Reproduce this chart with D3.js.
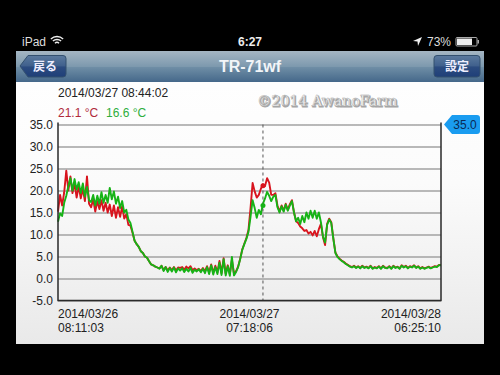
<!DOCTYPE html>
<html>
<head>
<meta charset="utf-8">
<script src="https://cdn.jsdelivr.net/npm/d3@7"></script>
<style>
  html, body { margin: 0; padding: 0; background: #000; }
  svg { display: block; }
  text { font-family: "Liberation Sans", sans-serif; }
  .tick text { font-size: 12px; fill: #222; }
  .grid .domain { display: none; }
  .grid line { stroke: #a2a2a2; stroke-width: 1.4; }
</style>
</head>
<body>
<div id="chart"></div>
<script>
const yTicks = [-5, 0, 5, 10, 15, 20, 25, 30, 35];
const xDates = ["2014/03/26", "2014/03/27", "2014/03/28"];
const xTimes = ["08:11:03", "07:18:06", "06:25:10"];
const xTickIndex = [0, 92.5, 185];

const cursorIndex = 99;
const cursorTime = "2014/03/27 08:44:02";
const cursorRed = 21.1;
const cursorGreen = 16.6;
const badgeValue = 35.0;

// one reading about every 15 minutes
const redValues = [
  15.2, 19.0, 16.6, 19.6, 24.5, 20.0, 23.2, 19.4, 21.6, 18.4,
  21.0, 18.2, 20.4, 17.6, 23.2, 17.0, 16.2, 18.0, 15.2, 17.6,
  15.8, 17.8, 15.4, 17.2, 15.0, 16.8, 14.2, 16.6, 13.8, 16.2,
  14.0, 16.4, 13.6, 14.6, 12.2, 12.0, 10.4, 8.6, 7.8, 7.2,
  6.2, 5.8, 5.0, 4.7, 3.9, 3.2, 3.0, 2.7, 2.5, 2.3,
  2.9, 1.9, 2.6, 1.8, 2.5, 1.9, 2.6, 1.8, 2.5, 2.4,
  2.6, 2.0, 2.7, 2.3, 2.8, 1.9, 2.3, 1.9, 2.2, 1.7,
  2.4, 1.6, 2.8, 1.4, 3.2, 1.3, 2.9, 1.4, 4.0, 1.2,
  4.6, 1.1, 3.0, 1.0, 4.2, 1.1, 1.6, 2.7, 4.5, 6.6,
  7.9, 9.2, 11.0, 16.0, 21.7, 19.8, 18.4, 19.0, 20.4, 21.4,
  21.0, 22.8, 21.8, 19.0, 19.0, 19.4, 16.6, 15.2, 16.6, 15.4,
  17.0, 15.6, 16.9, 17.8, 15.0, 13.0, 12.6, 11.8, 11.4, 10.8,
  11.0, 10.2, 10.6, 9.8, 10.8, 9.6, 11.2, 12.4, 9.4, 7.6,
  12.4, 13.6, 12.8, 9.1, 5.9, 5.0, 4.5, 4.1, 3.8, 3.4,
  3.1, 2.8, 2.6, 2.9, 2.5, 2.8, 2.4, 2.9, 2.5, 2.7,
  2.4, 2.9, 2.3, 2.6, 2.4, 2.8, 2.3, 2.9, 2.5, 2.4,
  2.8, 2.3, 2.9, 2.5, 2.7, 2.3, 3.0, 2.6, 2.9, 2.4,
  2.8, 2.6, 3.0, 2.5, 2.8, 2.3, 2.6, 2.3, 2.5, 2.7,
  2.4, 2.6, 2.8, 2.7, 3.1, 3.1
];
const greenValues = [
  12.9, 14.8, 14.2, 17.2, 18.8, 21.0, 22.8, 20.0, 22.6, 20.2,
  21.9, 19.4, 21.6, 18.6, 20.8, 17.8, 17.4, 19.0, 16.6, 18.8,
  17.0, 19.6, 17.2, 19.0, 17.2, 20.6, 18.0, 19.8, 17.0, 18.6,
  16.0, 17.6, 15.0, 15.6, 13.4, 12.6, 10.6, 8.6, 7.8, 7.2,
  6.2, 5.8, 5.0, 4.7, 3.9, 3.2, 3.0, 2.7, 2.5, 2.2,
  2.9, 1.7, 2.6, 1.5, 2.4, 1.6, 2.5, 1.4, 2.3, 1.8,
  2.3, 1.5, 2.2, 1.6, 2.4, 1.3, 2.0, 1.6, 2.1, 1.4,
  2.2, 1.2, 2.6, 1.0, 3.0, 0.9, 2.6, 1.0, 3.6, 0.8,
  4.4, 0.7, 2.8, 0.6, 4.9, 0.7, 1.5, 2.6, 4.4, 6.5,
  7.8, 9.0, 10.6, 14.0, 17.8, 16.0, 13.8, 15.6, 14.6, 17.0,
  18.2, 19.7, 18.8, 17.6, 18.6, 19.0, 16.2, 15.0, 16.4, 15.2,
  16.8, 15.4, 16.6, 17.6, 15.0, 13.0, 13.8, 12.4, 14.2, 12.8,
  15.0, 13.6, 15.4, 13.8, 15.4, 13.6, 15.0, 12.8, 9.5, 8.2,
  12.2, 13.4, 12.6, 9.0, 5.8, 4.9, 4.4, 4.0, 3.7, 3.3,
  3.0, 2.7, 2.5, 2.8, 2.4, 2.7, 2.3, 2.8, 2.4, 2.6,
  2.3, 2.8, 2.2, 2.5, 2.3, 2.7, 2.2, 2.8, 2.4, 2.3,
  2.7, 2.2, 2.8, 2.4, 2.6, 2.2, 2.9, 2.5, 2.8, 2.3,
  2.7, 2.5, 2.9, 2.4, 2.7, 2.2, 2.5, 2.2, 2.4, 2.6,
  2.3, 2.5, 2.7, 2.6, 3.0, 3.0
];

const svgWidth = 500;
const svgHeight = 375;
const margin = { top: 124.5, right: 59, bottom: 74.5, left: 58 };
const width = svgWidth - margin.left - margin.right;
const height = svgHeight - margin.top - margin.bottom;

const svg = d3.select("#chart")
  .append("svg")
  .attr("width", svgWidth)
  .attr("height", svgHeight);

const defs = svg.append("defs");

function addGradient(id, stops) {
  const grad = defs.append("linearGradient")
    .attr("id", id)
    .attr("x1", 0).attr("y1", 0).attr("x2", 0).attr("y2", 1);
  stops.forEach(s => grad.append("stop").attr("offset", s[0]).attr("stop-color", s[1]));
}
addGradient("panelGrad", [[0, "#ffffff"], [0.45, "#fbfbfb"], [1, "#e9e9e9"]]);
addGradient("navGrad", [[0, "#a5b6c3"], [0.5, "#7d99ae"], [0.52, "#6f8ea6"], [1, "#45688a"]]);
addGradient("btnGrad", [[0, "#5b7a9e"], [0.5, "#3f5f8c"], [0.52, "#2c4c80"], [1, "#1f3f78"]]);

// phone screen
svg.append("rect").attr("x", 16).attr("y", 51).attr("width", 468).attr("height", 293).attr("fill", "url(#panelGrad)");
svg.append("rect").attr("x", 16).attr("y", 51).attr("width", 468).attr("height", 31).attr("fill", "url(#navGrad)");

// status bar
svg.append("text").attr("x", 22).attr("y", 46).attr("font-size", 12).attr("fill", "#ddd").text("iPad");
const wifi = svg.append("g").attr("transform", "translate(57,45.5)").attr("fill", "none").attr("stroke", "#eee").attr("stroke-width", 1.4);
[3, 6, 9].forEach(r => {
  wifi.append("path").attr("d", d3.arc()({ innerRadius: r, outerRadius: r, startAngle: -0.75, endAngle: 0.75 }));
});
svg.append("text").attr("x", 250).attr("y", 46).attr("text-anchor", "middle").attr("font-size", 12).attr("font-weight", "bold").attr("fill", "#eee").text("6:27");
svg.append("path").attr("d", "M413 41 L422 37 L418 46 L417.5 41.5 Z").attr("fill", "#eee");
svg.append("text").attr("x", 427).attr("y", 46).attr("font-size", 12).attr("fill", "#ddd").text("73%");
svg.append("rect").attr("x", 456).attr("y", 37.5).attr("width", 21).attr("height", 8.5).attr("rx", 1).attr("fill", "none").attr("stroke", "#aaa");
svg.append("rect").attr("x", 457).attr("y", 38.5).attr("width", 15).attr("height", 6.5).attr("fill", "#eee");
svg.append("rect").attr("x", 477.5).attr("y", 40).attr("width", 1.5).attr("height", 3.5).attr("fill", "#aaa");

// nav bar
svg.append("path")
  .attr("d", "M20 66 L28 55.5 H63 Q66 55.5 66 58.5 V74 Q66 77 63 77 H28 Z")
  .attr("fill", "url(#btnGrad)").attr("stroke", "#33506f");
svg.append("text").attr("x", 45).attr("y", 70.5).attr("text-anchor", "middle")
  .attr("font-size", 12).attr("font-weight", "bold").attr("fill", "#eef")
  .style("font-family", "'Noto Sans CJK JP'").text("戻る");
svg.append("rect").attr("x", 434).attr("y", 55.5).attr("width", 46).attr("height", 21.5).attr("rx", 3)
  .attr("fill", "url(#btnGrad)").attr("stroke", "#33506f");
svg.append("text").attr("x", 457).attr("y", 70.5).attr("text-anchor", "middle")
  .attr("font-size", 12).attr("font-weight", "bold").attr("fill", "#eef")
  .style("font-family", "'Noto Sans CJK JP'").text("設定");
svg.append("text").attr("x", 250).attr("y", 71.5).attr("text-anchor", "middle")
  .attr("font-size", 16).attr("font-weight", "bold").attr("fill", "#f2f5f8").text("TR-71wf");

// header readout
svg.append("text").attr("x", 58).attr("y", 97).attr("font-size", 12).attr("fill", "#222").text(cursorTime);
svg.append("text").attr("x", 58).attr("y", 116.5).attr("font-size", 12).attr("fill", "#b02a3a").text(cursorRed.toFixed(1) + " °C");
svg.append("text").attr("x", 106).attr("y", 116.5).attr("font-size", 12).attr("fill", "#2fae3c").text(cursorGreen.toFixed(1) + " °C");

// watermark
[[1, 1, "#a8a8a8"], [0, 0, "#f8f8f8"]].forEach(d => {
  svg.append("text")
    .attr("x", 257 + d[0]).attr("y", 105.5 + d[1])
    .attr("font-size", 14.2)
    .attr("fill", d[2])
    .attr("stroke", d[0] ? "#a8a8a8" : "#a0a0a0")
    .attr("stroke-width", d[0] ? 1.2 : 0.3)
    .style("font-family", "'DejaVu Serif'")
    .text("©2014 AwanoFarm");
});

const g = svg.append("g").attr("transform", `translate(${margin.left},${margin.top})`);

const x = d3.scaleLinear().domain([0, redValues.length - 1]).range([0, width]);
const y = d3.scaleLinear().domain([-5, 35]).range([height, 0]);

// gridlines and y labels
const yAxis = d3.axisLeft(y)
  .tickValues(yTicks)
  .tickSize(-width)
  .tickPadding(5)
  .tickFormat(d => d.toFixed(1));
g.append("g").attr("class", "grid").call(yAxis);

// readings
const line = d3.line().x((d, i) => x(i)).y(d => y(d));
g.append("path").datum(redValues).attr("d", line)
  .attr("fill", "none").attr("stroke", "#d8141e").attr("stroke-width", 1.9).attr("stroke-linejoin", "round");
g.append("path").datum(greenValues).attr("d", line)
  .attr("fill", "none").attr("stroke", "#16b316").attr("stroke-width", 1.9).attr("stroke-linejoin", "round");

// cursor
g.append("line")
  .attr("x1", x(cursorIndex)).attr("x2", x(cursorIndex))
  .attr("y1", 0).attr("y2", height)
  .attr("stroke", "#555").attr("stroke-width", 1).attr("stroke-dasharray", "3,3");
g.append("circle").attr("cx", x(cursorIndex)).attr("cy", y(cursorRed)).attr("r", 2.5).attr("fill", "#d8141e");
g.append("circle").attr("cx", x(cursorIndex)).attr("cy", y(cursorGreen)).attr("r", 2.5).attr("fill", "#16b316");

// frame: left, bottom, right
g.append("path")
  .attr("d", d3.line()([[0, -2], [0, height], [width, height], [width, -2]]))
  .attr("fill", "none").attr("stroke", "#2a2a2a").attr("stroke-width", 1.5);

// x labels
xDates.forEach((d, i) => {
  const anchor = i === 0 ? "start" : i === xDates.length - 1 ? "end" : "middle";
  g.append("text").attr("x", x(xTickIndex[i])).attr("y", height + 17)
    .attr("text-anchor", anchor).attr("font-size", 12).attr("fill", "#222").text(d);
  g.append("text").attr("x", x(xTickIndex[i])).attr("y", height + 31.5)
    .attr("text-anchor", anchor).attr("font-size", 12).attr("fill", "#222").text(xTimes[i]);
});

// value badge on the right edge
const by = y(badgeValue);
g.append("path")
  .attr("d", `M${width + 3} ${by} L${width + 11} ${by - 9.5} H${width + 36} Q${width + 39} ${by - 9.5} ${width + 39} ${by - 6.5} V${by + 6.5} Q${width + 39} ${by + 9.5} ${width + 36} ${by + 9.5} H${width + 11} Z`)
  .attr("fill", "#1a9cf0");
g.append("text").attr("x", width + 24).attr("y", by + 4.5).attr("text-anchor", "middle")
  .attr("font-size", 12).attr("fill", "#0a2a55").text(badgeValue.toFixed(1));
</script>
</body>
</html>
